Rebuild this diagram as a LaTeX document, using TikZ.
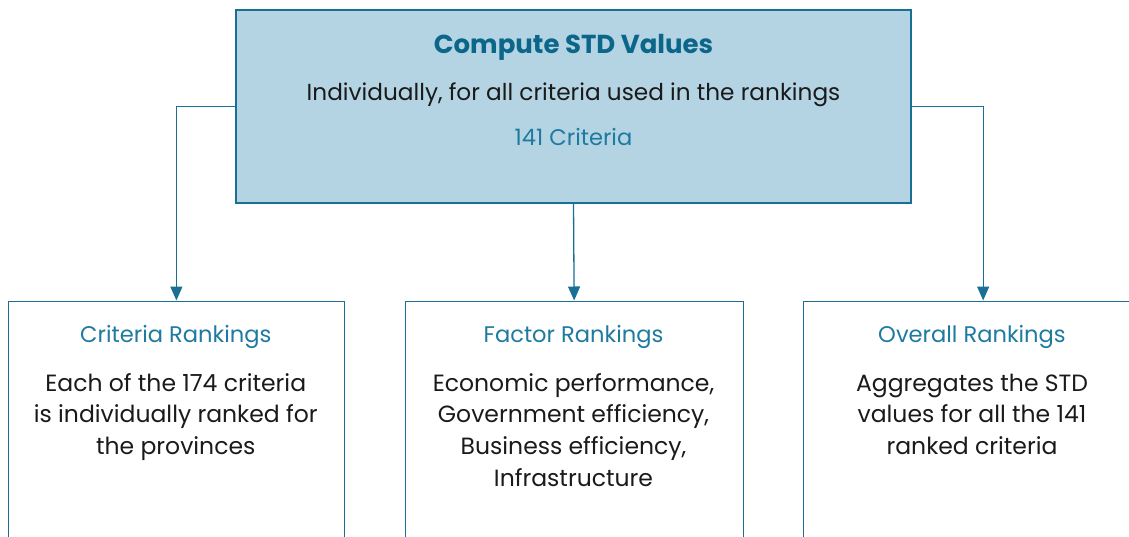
\documentclass[tikz,border=0pt]{standalone}
\usepackage{fontspec}
\setmainfont{Poppins}
\usetikzlibrary{arrows.meta}
\definecolor{frameblue}{HTML}{1A6F95}
\definecolor{fillblue}{HTML}{B4D4E4}
\definecolor{titleblue}{HTML}{0B6689}
\definecolor{headblue}{HTML}{1F7AA0}
\definecolor{bodyblack}{HTML}{1A1A1A}
\tikzset{
  box/.style={draw=frameblue, line width=1.3pt, inner sep=0pt},
  conn/.style={draw=frameblue, line width=1.3pt, -{Triangle[length=14pt,width=12pt]}},
  % multi-line text: the base anchor sits on the last line's baseline
  txt/.style={inner sep=0pt, anchor=base, align=center, text=bodyblack, font=\fontsize{23.5}{31.7}\selectfont},
  head/.style={inner sep=0pt, anchor=base, text=headblue, font=\fontsize{22.6}{26}\selectfont},
  title/.style={inner sep=0pt, anchor=base, text=titleblue, font=\fontsize{26}{30}\selectfont\bfseries},
}
\begin{document}
\begin{tikzpicture}[x=1pt,y=-1pt]
  \useasboundingbox (0,0) rectangle (1129,537);
  % top box
  \node[box, fill=fillblue, minimum width=675pt, minimum height=193pt] (top) at (573.5,106.5) {};
  \node[title] (ttl) at (573.5,53.3) {Compute STD Values};
  \node[txt, font=\fontsize{23.2}{28}\selectfont] (ttx) at (573.5,101) {Individually, for all criteria used in the rankings};
  \node[head] (tnum) at (573.5,145.7) {141 Criteria};
  % lower boxes, running past the page edge
  \node[box, anchor=north west, minimum width=336.5pt, minimum height=300pt] (crit) at (7.5,300.5) {};
  \node[box, anchor=north west, minimum width=338pt, minimum height=300pt] (fact) at (404.5,300.5) {};
  \node[box, anchor=north west, minimum width=360pt, minimum height=300pt] (over) at (802.5,300.5) {};
  % box texts
  \node[head] (critH) at (175.75,342.3) {Criteria Rankings};
  \node[txt] (critT) at (175.75,454.4) {Each of the 174 criteria\\is individually ranked for\\the provinces};
  \node[head] (factH) at (573.5,342.3) {Factor Rankings};
  \node[txt] (factT) at (573.5,486.1) {Economic performance,\\Government efficiency,\\Business efficiency,\\Infrastructure};
  \node[head] (overH) at (972,342.3) {Overall Rankings};
  \node[txt] (overT) at (972,454.4) {Aggregates the STD\\values for all the 141\\ranked criteria};
  % connectors
  \draw[conn] (top.west) -| (crit.north);
  \draw[conn] (top.south) -- (fact.north);
  \draw[conn] (top.east) -| (over.north);
\end{tikzpicture}
\end{document}
